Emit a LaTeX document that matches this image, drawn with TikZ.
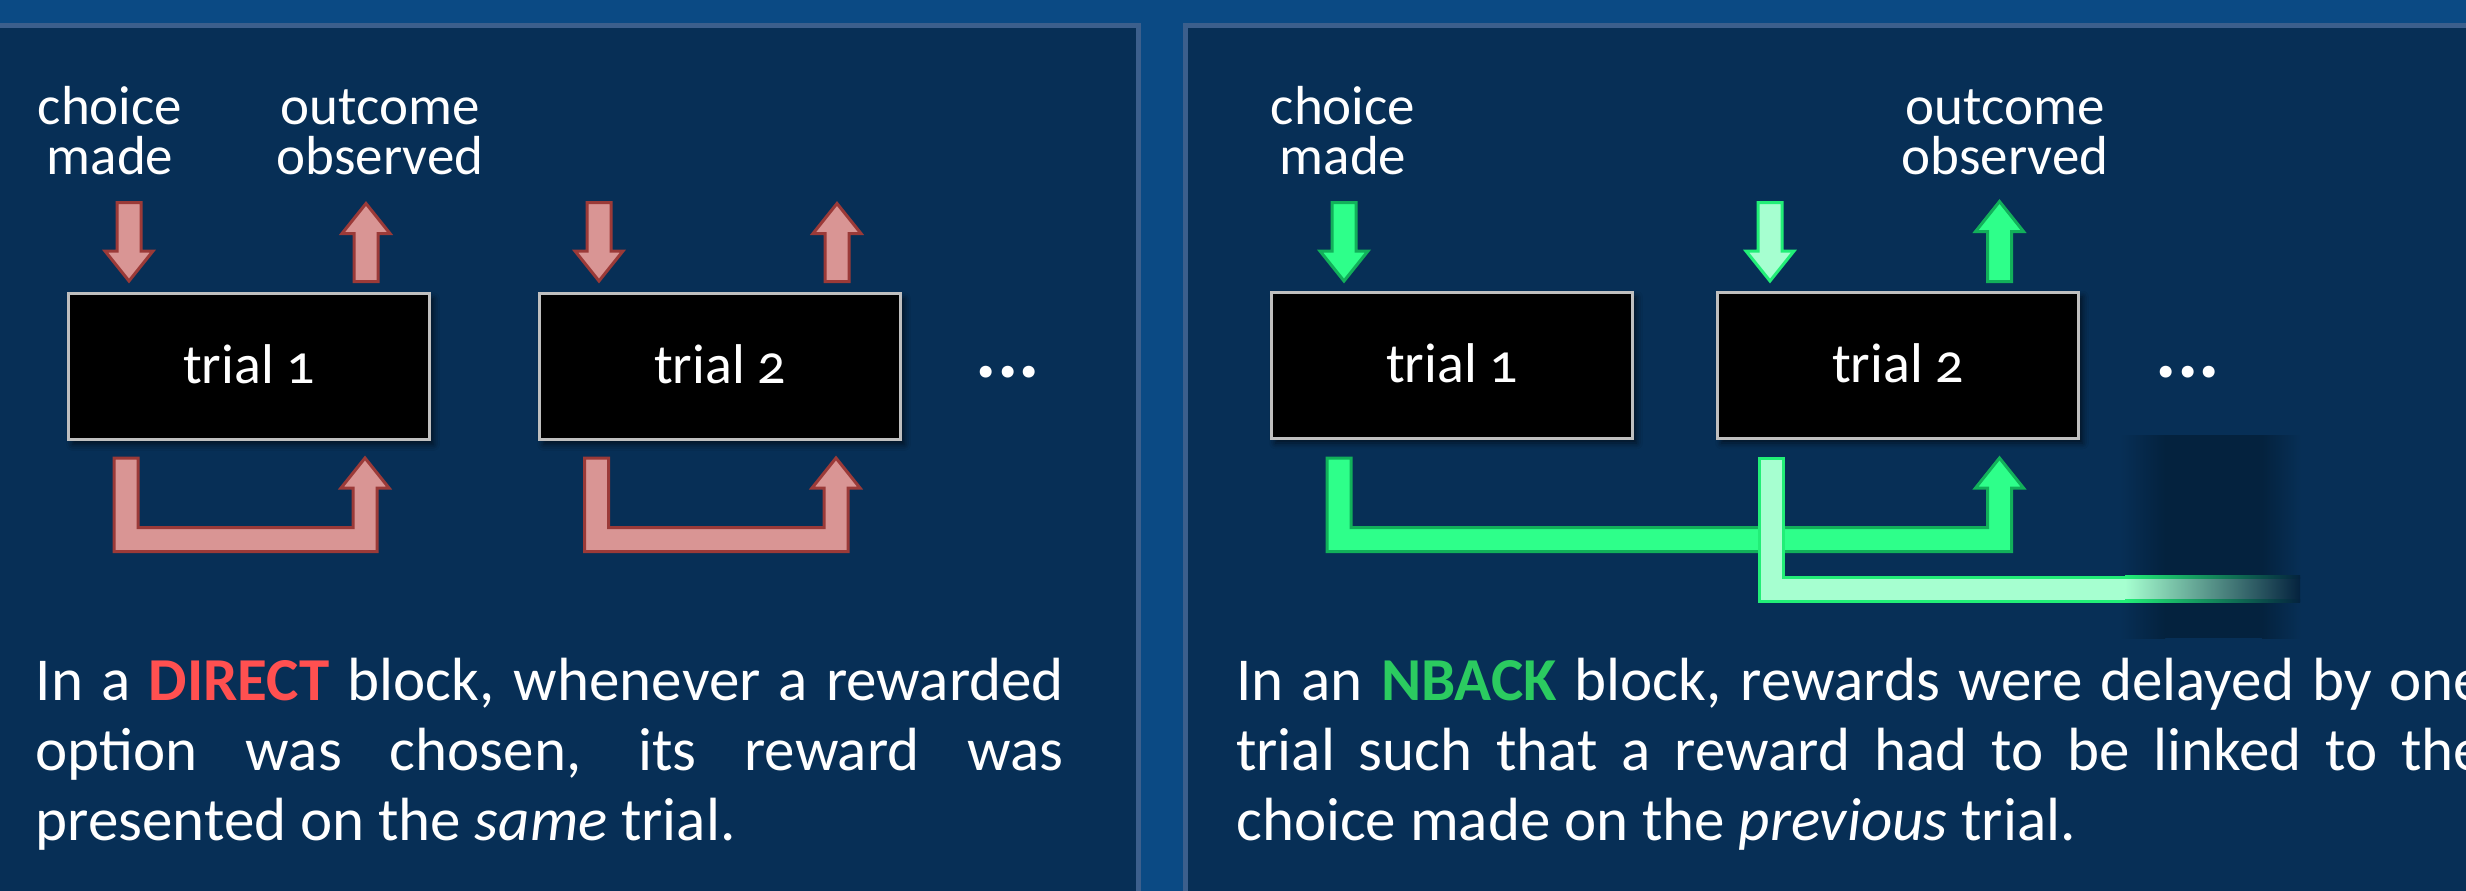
\documentclass[tikz,border=0pt]{standalone}
\usepackage{fontspec}
\setmainfont{Carlito}[Numbers=OldStyle]
\usetikzlibrary{shadows.blur}
\definecolor{outerbg}{HTML}{0B4A84}
\definecolor{panelbg}{HTML}{072F56}
\definecolor{panelborder}{HTML}{3C5F8C}
\definecolor{pinkfill}{HTML}{D99594}
\definecolor{pinkline}{HTML}{9B3A38}
\definecolor{greenfill}{HTML}{2EFF8A}
\definecolor{greenline}{HTML}{12B05A}
\definecolor{lgfill}{HTML}{A6FFD0}
\definecolor{lgline}{HTML}{22EE77}
\definecolor{directred}{HTML}{FF5050}
\definecolor{nbackgreen}{HTML}{2BCB60}
\definecolor{shadowdark}{HTML}{04223E}
\definecolor{boxline}{HTML}{BFBFBF}
\newcommand\BlkDown[4]{\draw[#1] (#2-12,#3) -- (#2+12,#3) -- (#2+12,#4-30) -- (#2+24,#4-30) -- (#2,#4) -- (#2-24,#4-30) -- (#2-12,#4-30) -- cycle;}
\newcommand\BlkUp[4]{\draw[#1] (#2-12,#4) -- (#2-12,#3+30) -- (#2-24,#3+30) -- (#2,#3) -- (#2+24,#3+30) -- (#2+12,#3+30) -- (#2+12,#4) -- cycle;}
\newcommand\BlkU[5]{\draw[#1] (#2-12,#4) -- (#2-12,#5+12) -- (#3+12,#5+12) -- (#3+12,#4+30) -- (#3+24,#4+30) -- (#3,#4) -- (#3-24,#4+30) -- (#3-12,#4+30) -- (#3-12,#5-12) -- (#2+12,#5-12) -- (#2+12,#4) -- cycle;}
\tikzset{
  panel/.style={fill=panelbg, draw=panelborder, line width=5pt},
  trialbox/.style={draw=boxline, fill=black, line width=3pt, minimum width=361pt, minimum height=146pt, inner sep=0pt,
    text=white, font=\fontsize{56}{56}\selectfont,
    blur shadow={shadow xshift=4pt, shadow yshift=-5pt, shadow blur radius=6pt, shadow opacity=60}},
  lbl/.style={text=white, font=\fontsize{55}{50}\selectfont, anchor=base, inner sep=0pt},
  dotsstyle/.style={text=white, font=\fontsize{80}{80}\selectfont\bfseries, anchor=base, inner sep=0pt},
  body/.style={text=white, font=\fontsize{61}{70}\selectfont, anchor=base west, inner sep=0pt},
  pinkarrow/.style={fill=pinkfill, draw=pinkline, line width=3pt, line join=miter},
  greenarrow/.style={fill=greenfill, draw=greenline, line width=3pt, line join=miter},
  lgarrow/.style={fill=lgfill, draw=lgline, line width=3pt, line join=miter},
}
\begin{document}
\begin{tikzpicture}[x=1pt, y=-1pt]
\useasboundingbox (0,0) rectangle (2466,891);
\fill[outerbg] (0,0) rectangle (2466,891);
% panels
\draw[panel] (-20,25.5) rectangle (1138.5,920);
\draw[panel] (1185.5,25.5) rectangle (2490,920);

% ---------- left panel (DIRECT) ----------
\node[lbl] (lch) at (110,124) {choice};
\node[lbl] (lmd) at (110,174) {made};
\node[lbl] (lout) at (380,124) {outcome};
\node[lbl] (lobs) at (380,174) {observed};

\node[trialbox] (t1L) at (249,366.5) {\raisebox{4pt}{trial 1}};
\node[trialbox] (t2L) at (720,366.5) {\raisebox{4pt}{trial 2}};
\node[dotsstyle] (dotsL) at (1008,377) {...};

\BlkDown{pinkarrow}{129}{202.5}{281}
\BlkUp{pinkarrow}{366}{203.5}{281.5}
\BlkDown{pinkarrow}{599}{202.5}{281}
\BlkUp{pinkarrow}{837}{203.5}{281.5}
\BlkU{pinkarrow}{126}{365}{458}{539.5}
\BlkU{pinkarrow}{596.5}{836}{458}{539.5}

\node[body] (dl1) at (35.6,700) {\makebox[1028pt][s]{In a \textcolor{directred}{\textbf{DIRECT}} block, whenever a rewarded}};
\node[body] (dl2) at (35.6,770) {\makebox[1028pt][s]{option was chosen, its reward was}};
\node[body] (dl3) at (35.6,840.5) {presented on the \textit{same} trial.};

% ---------- right panel (NBACK) ----------
\node[lbl] (rch) at (1343,124) {choice};
\node[lbl] (rmd) at (1343,174) {made};
\node[lbl] (rout) at (2005,124) {outcome};
\node[lbl] (robs) at (2005,174) {observed};

\node[trialbox] (t1R) at (1452,365) {\raisebox{4pt}{trial 1}};
\node[trialbox] (t2R) at (1898,365) {\raisebox{4pt}{trial 2}};
\node[dotsstyle] (dotsR) at (2188,377) {...};

\BlkDown{greenarrow}{1344}{202.5}{281}
\BlkDown{lgarrow}{1770}{202.5}{281}
\BlkUp{greenarrow}{1999.5}{201.5}{281.5}
\BlkU{greenarrow}{1339}{1999.5}{458}{539.5}

% dark fading block behind the open end
\shade[left color=panelbg, right color=shadowdark] (2120,435) rectangle (2165,638);
\fill[shadowdark] (2165,435) rectangle (2262,638);
\shade[left color=shadowdark, right color=panelbg] (2262,435) rectangle (2301,638);

% light green delayed arrow (fading out)
\fill[lgfill] (1759.5,458) -- (1783.5,458) -- (1783.5,577) -- (2126,577) -- (2126,601) -- (1759.5,601) -- cycle;
\draw[draw=lgline, line width=3pt, line join=miter] (2126,577) -- (1783.5,577) -- (1783.5,458) -- (1759.5,458) -- (1759.5,601) -- (2126,601);
\shade[left color=lgfill, right color=shadowdark] (2125,577) rectangle (2300,601);
\shade[left color=lgline, right color=shadowdark] (2125,575.5) rectangle (2300,578.5);
\shade[left color=lgline, right color=shadowdark] (2125,599.5) rectangle (2300,602.5);

\node[body] (dr1) at (1236,700) {\makebox[1248pt][s]{In an \textcolor{nbackgreen}{\textbf{NBACK}} block, rewards were delayed by one}};
\node[body] (dr2) at (1236,770) {\makebox[1248pt][s]{trial such that a reward had to be linked to the}};
\node[body] (dr3) at (1236,840.5) {choice made on the \textit{previous} trial.};
\end{tikzpicture}
\end{document}
